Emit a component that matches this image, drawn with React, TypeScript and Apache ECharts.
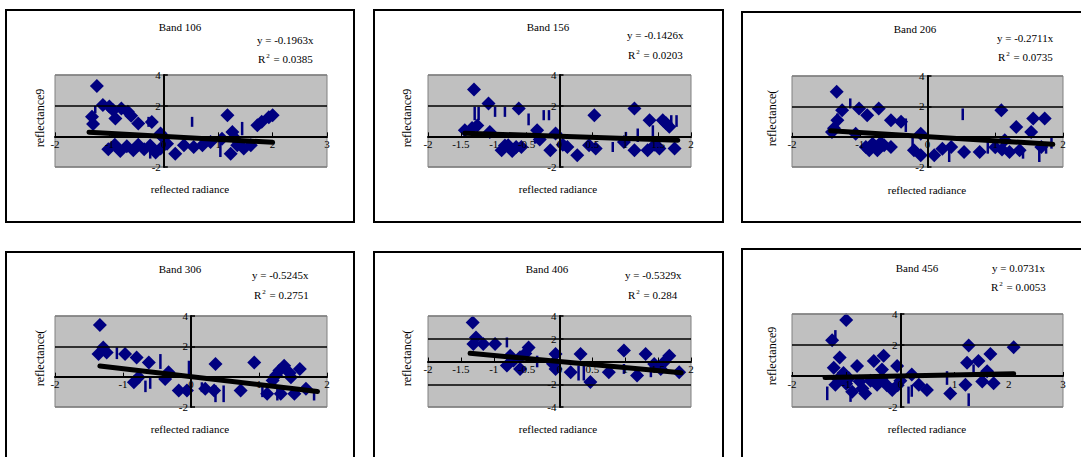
import React, { useEffect, useRef } from 'react';
import * as echarts from 'echarts';

// ---------- data ----------
const titles = ['Band 106', 'Band 156', 'Band 206', 'Band 306', 'Band 406', 'Band 456'];
const slopeLabels = ['-0.1963', '-0.1426', '-0.2711', '-0.5245', '-0.5329', '0.0731'];
const slopes = [-0.1963, -0.1426, -0.2711, -0.5245, -0.5329, 0.0731];
const r2Labels = ['0.0385', '0.0203', '0.0735', '0.2751', '0.284', '0.0053'];
const xAxisName = 'reflected radiance';
const yAxisNames = ['reflectance9', 'reflectance9', 'reflectance(', 'reflectance(', 'reflectance(', 'reflectance9'];

const xMins = [-2, -2, -2, -2, -2, -2];
const xMaxs = [3, 2, 2, 2, 2, 3];
const xSteps = [1, 0.5, 1, 1, 0.5, 1];
const yMins = [-2, -2, -2, -2, -4, -2];
const yMaxs = [4, 4, 4, 4, 4, 4];
const ySteps = [2, 2, 2, 2, 2, 2];

// trend line x extent
const trendRanges = [
  [-1.375, 2.0],
  [-1.44, 1.8],
  [-1.43, 1.85],
  [-1.34, 1.86],
  [-1.36, 1.85],
  [-1.39, 2.09],
];

const points106 = [
  [-1.23, 3.28], [-1.32, 1.27], [-1.3, 0.8], [-1.12, 2.05], [-1.0, 1.95], [-0.93, 1.7], [-0.89, 1.16],
  [-0.78, 1.82], [-0.66, 1.6], [-0.6, 1.35], [-0.47, 0.83], [-0.22, 0.94], [-0.06, 0.18], [-1.02, -0.85],
  [-0.9, -0.55], [-0.8, -0.95], [-0.68, -0.65], [-0.56, -0.9], [-0.47, -0.55], [-0.36, -0.85],
  [-0.25, -0.6], [-0.15, -1.05], [-0.06, -0.8], [0.06, -0.48], [0.21, -1.13], [0.37, -0.58],
  [0.55, -0.69], [0.71, -0.58], [0.86, -0.37], [1.07, -0.15], [1.17, 1.38], [1.26, 0.29], [1.3, -0.1],
  [1.23, -1.13], [1.35, -0.58], [1.47, -0.8], [1.6, -0.58], [1.72, 0.72], [1.8, 0.95], [1.93, 1.25],
  [2.0, 1.38], [0.0, -0.1], [-0.05, 0.05],
];
const bars106 = [
  [-1.26, 1.5, 2.0], [0.52, 0.62, 1.27], [1.44, 0.07, 0.94], [-0.28, 0.62, 1.27], [1.04, -1.35, -0.37],
  [1.47, -1.1, -0.4], [-1.1, 1.8, 2.35], [-0.25, -1.45, -0.8],
];

const points156 = [
  [-1.3, 3.06], [-1.44, 0.4], [-1.33, 0.55], [-1.25, 0.7], [-1.08, 2.14], [-1.06, 0.29], [-0.88, -0.91],
  [-0.83, -0.6], [-0.78, -0.58], [-0.72, -0.95], [-0.66, -0.7], [-0.58, -0.7], [-0.62, 1.82], [-0.34, 0.4],
  [-0.3, -0.2], [-0.14, -0.91], [-0.06, 0.18], [0.05, -0.55], [0.12, -0.69], [0.27, -1.24], [0.45, -0.58],
  [0.53, 1.38], [0.55, -0.8], [0.98, -0.37], [1.14, 1.82], [1.14, -0.91], [1.37, 1.05], [1.34, -0.91],
  [1.57, 1.05], [1.67, 0.62], [1.52, -0.8], [1.75, -0.8], [1.45, -0.55], [1.62, 0.85],
];
const bars156 = [
  [-1.29, 1.05, 1.93], [-1.23, 1.05, 1.93], [-0.98, 1.27, 1.93], [-0.83, 1.27, 1.93], [-0.47, 0.72, 1.49],
  [-0.24, 1.05, 1.71], [-0.16, 1.05, 1.71], [-0.37, -0.48, 0.07], [0.81, -1.02, -0.37], [1.01, -0.48, 0.29],
  [1.19, -0.37, 0.51], [1.42, -0.04, 0.72], [1.7, 0.62, 1.38], [1.78, 0.62, 1.38], [0.12, -1.0, -0.37],
];

const points206 = [
  [-1.34, 2.96], [-1.41, 0.31], [-1.26, 1.75], [-1.33, 1.09], [-1.38, 0.55], [-1.06, 0.2], [-1.01, 1.86],
  [-0.89, 1.42], [-0.72, 1.86], [-0.54, 1.09], [-0.39, 0.98], [-0.91, -0.68], [-0.81, -0.46], [-0.74, -0.9],
  [-0.64, -0.57], [-0.54, -0.68], [-0.86, -0.9], [-0.69, -0.4], [-0.2, -0.9], [-0.1, 0.2], [-0.1, -1.23],
  [0.1, -1.23], [0.22, -0.79], [0.35, -0.68], [0.54, -1.01], [0.77, -1.01], [1.09, 1.75], [1.14, -0.24],
  [1.21, -1.01], [1.31, 0.64], [1.36, -0.9], [1.53, 0.31], [1.56, 1.2], [1.73, 1.2], [1.68, -0.68],
  [1.0, -0.7], [1.1, -0.85],
];
const bars206 = [
  [-1.14, 1.86, 2.52], [0.52, 1.09, 1.86], [-0.32, 0.31, 1.2], [-0.22, -0.68, -0.02], [0.32, -1.67, -0.9],
  [0.89, -1.12, -0.35], [1.41, -1.45, -0.79], [1.65, -1.67, -0.79], [1.75, -1.12, -0.35],
  [1.83, -0.79, -0.02], [-1.33, 0.75, 1.53],
];

const points306 = [
  [-1.34, 3.41], [-1.29, 1.93], [-1.36, 1.49], [-1.24, 1.6], [-0.97, 1.49], [-0.8, 1.27], [-0.62, 0.94],
  [-0.84, -0.37], [-0.77, -0.04], [-0.33, 0.29], [-0.38, -0.15], [-0.18, -0.91], [-0.06, -0.91],
  [0.36, 0.83], [0.34, -0.91], [0.21, -0.8], [0.73, -0.91], [0.93, 0.94], [1.12, -1.13], [1.2, -0.26],
  [1.3, 0.4], [1.37, 0.72], [1.32, -1.13], [1.47, -0.04], [1.52, -1.13], [1.6, 0.51], [1.69, -0.8],
  [1.25, 0.1], [1.45, 0.25],
];
const bars306 = [
  [-1.09, 1.16, 1.93], [-0.6, -0.8, -0.04], [-0.67, -1.02, -0.26], [-0.45, 0.51, 1.49], [-0.03, 0.07, 1.05],
  [0.16, -1.02, -0.37], [0.36, -1.68, -0.58], [0.48, -1.68, -0.58], [1.05, -1.35, -0.58],
  [1.27, -1.57, -0.69], [1.81, -1.57, -0.91],
];

const points406 = [
  [-1.32, 3.42], [-1.27, 2.11], [-1.31, 1.53], [-1.16, 1.53], [-0.98, 1.53], [-0.8, -0.35], [-0.7, 0.09],
  [-0.6, 0.38], [-0.47, 1.24], [-0.6, -0.65], [-0.75, 0.5], [-0.52, 0.7], [-0.06, 0.67], [-0.06, -0.65],
  [-0.1, -0.2], [0.17, -0.94], [0.32, 0.67], [0.47, -1.81], [0.75, -0.94], [0.98, 0.96], [1.18, -1.23],
  [1.31, 0.67], [1.44, -0.21], [1.54, -0.65], [1.67, 0.51], [1.82, -0.94], [1.58, -0.1],
];
const bars406 = [
  [-0.8, 1.24, 2.11], [-0.34, -0.51, 0.51], [0.29, -1.67, -0.36], [0.37, -1.67, -0.36], [0.98, -1.09, -0.22],
  [-1.13, 1.24, 1.82], [1.39, -1.38, -0.36],
];

const points456 = [
  [-1.0, 3.62], [-1.26, 2.3], [-1.12, 1.2], [-1.23, 0.53], [-1.05, 0.2], [-0.8, 0.64], [-1.2, -0.57],
  [-0.89, -1.02], [-0.65, -1.13], [-0.49, 0.97], [-0.31, 1.3], [-0.34, 0.42], [-0.43, -0.57], [-0.15, -0.9],
  [-0.06, 0.64], [0.21, 0.09], [0.34, -0.57], [0.49, -0.9], [0.92, -1.13], [1.2, -0.57], [1.26, 1.97],
  [1.23, 0.86], [1.44, 0.97], [1.51, -0.35], [1.66, 1.42], [1.72, -0.46], [2.09, 1.86], [1.6, 0.31],
  [-1.15, -0.2], [-1.0, -0.5], [-0.95, -0.15], [-0.75, -0.35], [-0.7, -0.8], [-0.55, -0.3], [-0.35, -0.2],
  [-0.25, -0.6], [-0.05, -0.6], [0.0, -0.3],
];
const bars456 = [
  [-1.35, -1.56, -0.68], [-1.2, 2.19, 2.96], [0.15, -1.78, -0.68], [0.21, -1.34, -0.57], [0.86, -0.57, 0.31],
  [1.26, -1.95, -1.12], [-0.92, -1.67, -0.68], [1.35, -0.02, 0.75],
];

const allPoints = [points106, points156, points206, points306, points406, points456];
const allBars = [bars106, bars156, bars206, bars306, bars406, bars456];

// ---------- layout ----------
const grids = [
  { left: 55, top: 75, width: 272, height: 92 },
  { left: 428, top: 75, width: 263, height: 92 },
  { left: 792, top: 76, width: 271, height: 91 },
  { left: 55, top: 316, width: 272, height: 91 },
  { left: 428, top: 316, width: 263, height: 91 },
  { left: 792, top: 314, width: 271, height: 93 },
];
const boxes = [
  { x: 6, y: 10, w: 348, h: 212 },
  { x: 374, y: 10, w: 349, h: 212 },
  { x: 742, y: 12, w: 360, h: 210 },
  { x: 6, y: 252, w: 348, h: 230 },
  { x: 374, y: 252, w: 349, h: 230 },
  { x: 742, y: 249, w: 360, h: 230 },
];
const titlePos = [[180, 27], [548, 27], [915, 29], [180, 269], [547, 269], [917, 268]];
const eqPos = [[257, 40], [627, 35], [997, 38], [252, 275], [625, 275], [992, 268]];
const r2Pos = [[258, 59], [628, 55], [998, 57], [254, 295], [628, 295], [991, 287]];
const xNamePos = [[190, 189], [558, 189], [927, 190], [190, 429], [558, 429], [927, 429]];
const yNamePos = [[40, 118], [407, 118], [772, 118], [40, 358], [407, 358], [772, 356]];

const FONT = 'Liberation Serif';
const NAVY = '#000080';

export default function App() {
  const ref = useRef<HTMLDivElement>(null);

  useEffect(() => {
    const chart = echarts.init(ref.current as HTMLDivElement, null, { renderer: 'svg' });

    const gridOpts = grids.map((g) => ({
      ...g,
      show: true,
      backgroundColor: '#c0c0c0',
      borderColor: '#808080',
      borderWidth: 1,
    }));

    // axes cross at zero: shift each axis (line, ticks, labels) to the other's zero
    const xAxes = grids.map((g, i) => ({
      type: 'value',
      gridIndex: i,
      min: xMins[i],
      max: xMaxs[i],
      interval: xSteps[i],
      offset: -(g.height * (0 - yMins[i])) / (yMaxs[i] - yMins[i]),
      axisLine: { onZero: false, lineStyle: { color: '#000', width: 2 } },
      axisTick: { show: true, inside: true, length: 4, lineStyle: { color: '#000', width: 1 } },
      axisLabel: { color: '#000', fontFamily: FONT, fontSize: 11, margin: 2 },
      splitLine: { show: false },
      z: 5,
    }));

    const yAxes = grids.map((g, i) => {
      const n = Math.round((yMaxs[i] - yMins[i]) / ySteps[i]) + 1;
      const colors = Array.from({ length: n }, (_, k) => (k === 0 || k === n - 1 ? '#808080' : '#000'));
      return {
        type: 'value',
        gridIndex: i,
        min: yMins[i],
        max: yMaxs[i],
        interval: ySteps[i],
        offset: -(g.width * (0 - xMins[i])) / (xMaxs[i] - xMins[i]),
        axisLine: { onZero: false, lineStyle: { color: '#000', width: 2 } },
        axisTick: { show: true, inside: true, length: 4, lineStyle: { color: '#000', width: 1.5 } },
        axisLabel: {
          color: '#000',
          fontFamily: FONT,
          fontSize: 11,
          margin: 3,
          formatter: (v: number) => (v === 0 ? '' : String(v)),
        },
        splitLine: { show: true, lineStyle: { color: colors, width: 1.5 } },
        z: 5,
      };
    });

    const series: any[] = [];
    grids.forEach((_, i) => {
      series.push({
        type: 'custom',
        xAxisIndex: i,
        yAxisIndex: i,
        data: allBars[i],
        encode: { x: 0, y: [1, 2] },
        renderItem: (params: any, api: any) => {
          const p1 = api.coord([api.value(0), api.value(1)]);
          const p2 = api.coord([api.value(0), api.value(2)]);
          return {
            type: 'line',
            shape: { x1: p1[0], y1: p1[1], x2: p2[0], y2: p2[1] },
            style: { stroke: NAVY, lineWidth: 2.5 },
          };
        },
        z: 2,
      });
      series.push({
        type: 'scatter',
        xAxisIndex: i,
        yAxisIndex: i,
        symbol: 'diamond',
        symbolSize: [14, 14],
        itemStyle: { color: NAVY, opacity: 1 },
        data: allPoints[i],
        z: 3,
      });
      const [a, b] = trendRanges[i];
      series.push({
        type: 'line',
        xAxisIndex: i,
        yAxisIndex: i,
        symbol: 'none',
        lineStyle: { color: '#000', width: 5, cap: 'round' },
        data: [
          [a, slopes[i] * a],
          [b, slopes[i] * b],
        ],
        z: 4,
      });
    });

    const graphics: any[] = [];
    boxes.forEach((bx) => {
      graphics.push({
        type: 'rect',
        shape: { x: bx.x, y: bx.y, width: bx.w, height: bx.h },
        style: { fill: 'none', stroke: '#000', lineWidth: 2 },
        z: 0,
      });
    });
    grids.forEach((_, i) => {
      graphics.push({
        type: 'text',
        x: titlePos[i][0],
        y: titlePos[i][1],
        style: {
          text: titles[i],
          fontFamily: FONT,
          fontSize: 11,
          fill: '#000',
          textAlign: 'center',
          textVerticalAlign: 'middle',
        },
      });
      graphics.push({
        type: 'text',
        x: eqPos[i][0],
        y: eqPos[i][1],
        style: {
          text: 'y = ' + slopeLabels[i] + 'x',
          fontFamily: FONT,
          fontSize: 11,
          fill: '#000',
          textAlign: 'left',
          textVerticalAlign: 'middle',
        },
      });
      graphics.push({
        type: 'text',
        x: r2Pos[i][0],
        y: r2Pos[i][1],
        style: {
          text: '{a|R}{s|2}{a| = ' + r2Labels[i] + '}',
          fontFamily: FONT,
          fontSize: 11,
          fill: '#000',
          textAlign: 'left',
          textVerticalAlign: 'middle',
          rich: {
            a: { fontFamily: FONT, fontSize: 11, fill: '#000', lineHeight: 14 },
            s: { fontFamily: FONT, fontSize: 7, fill: '#000', lineHeight: 14, padding: [0, 1, 7, 1] },
          },
        },
      });
      graphics.push({
        type: 'text',
        x: xNamePos[i][0],
        y: xNamePos[i][1],
        style: {
          text: xAxisName,
          fontFamily: FONT,
          fontSize: 11,
          fill: '#000',
          textAlign: 'center',
          textVerticalAlign: 'middle',
        },
      });
      graphics.push({
        type: 'text',
        x: yNamePos[i][0],
        y: yNamePos[i][1],
        rotation: Math.PI / 2,
        style: {
          text: yAxisNames[i],
          fontFamily: FONT,
          fontSize: 12,
          fill: '#000',
          textAlign: 'center',
          textVerticalAlign: 'middle',
        },
      });
    });

    chart.setOption({
      animation: false,
      backgroundColor: '#fff',
      grid: gridOpts,
      xAxis: xAxes,
      yAxis: yAxes,
      series,
      graphic: graphics,
    });

    return () => chart.dispose();
  }, []);

  return (
    <div
      ref={ref}
      style={{ position: 'fixed', left: 0, top: 0, width: 1081, height: 457, background: '#fff' }}
    />
  );
}
